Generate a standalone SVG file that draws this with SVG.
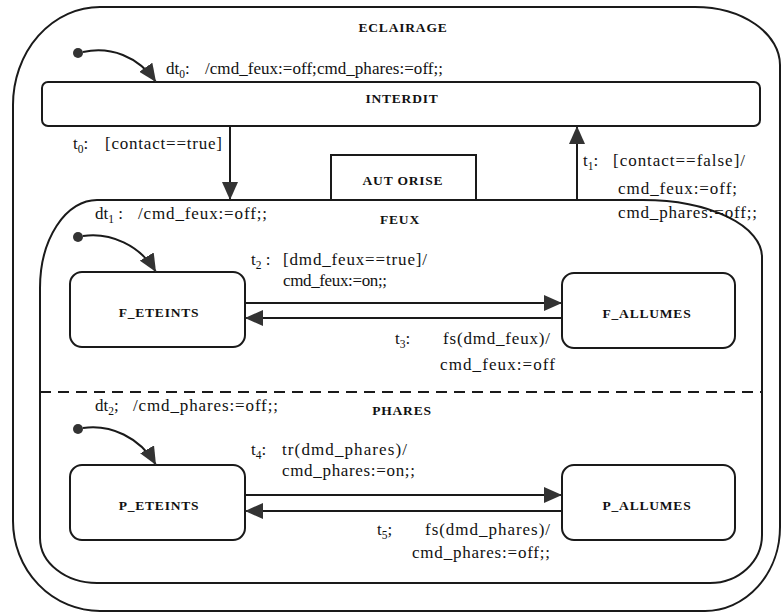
<svg xmlns="http://www.w3.org/2000/svg" width="782" height="614" viewBox="0 0 782 614">
  <style>
    .frame { fill: none; stroke: #1a1a1a; stroke-width: 2; }
    .state { fill: #ffffff; stroke: #1a1a1a; stroke-width: 2; }
    .sep { fill: none; stroke: #1a1a1a; stroke-width: 2; stroke-dasharray: 11 7; }
    .edge { fill: none; stroke: #1a1a1a; stroke-width: 2; }
    .dot { fill: #333333; }
    .name { font-family: "Liberation Serif", "Times New Roman", serif; font-size: 13.5px; font-weight: bold; letter-spacing: 0.8px; fill: #111111; text-anchor: middle; }
    .lbl { font-family: "Liberation Serif", "Times New Roman", serif; font-size: 17px; fill: #111111; }
    .sub { font-size: 11.5px; }
  </style>
  <defs>
    <marker id="head" markerUnits="userSpaceOnUse" markerWidth="18" markerHeight="16" refX="18" refY="8" orient="auto">
      <path d="M0 0 L18 8 L0 16 Z" fill="#333333"/>
    </marker>
  </defs>

  <rect width="782" height="614" fill="#ffffff"/>

  <!-- top-level superstate -->
  <g id="eclairage">
    <path class="frame" d="M100 7 H695 A85 58 0 0 1 780 65 V527 A75 84 0 0 1 705 611 H100 A87 90 0 0 1 13 521 V105 A87 98 0 0 1 100 7 Z"/>
    <text class="name" x="403" y="32">ECLAIRAGE</text>
  </g>

  <g id="init-eclairage">
    <circle class="dot" cx="78" cy="53" r="5"/>
  </g>

  <g id="interdit">
    <rect class="state" x="42" y="82" width="718" height="44" rx="6"/>
    <text class="name" x="402" y="103">INTERDIT</text>
  </g>

  <!-- AUTORISE tab and its two concurrent regions -->
  <g id="autorise">
    <path class="frame" d="M331 200 V155 H476 V200"/>
    <text class="name" x="403" y="185">AUT ORISE</text>
    <path class="frame" d="M97 200 H643 A119 57 0 0 1 762 257 V535 A52 48 0 0 1 710 583 H97 A57 45 0 0 1 40 538 V288 A57 88 0 0 1 97 200 Z"/>
    <line class="sep" x1="40" y1="392" x2="762" y2="392"/>
  </g>

  <g id="feux">
    <text class="name" x="400" y="224">FEUX</text>
    <circle class="dot" cx="78" cy="237" r="5"/>
  </g>

  <g id="f_eteints">
    <rect class="state" x="70" y="272" width="175" height="75" rx="12"/>
    <text class="name" x="159" y="317">F_ETEINTS</text>
  </g>

  <g id="f_allumes">
    <rect class="state" x="562" y="273" width="173" height="75" rx="12"/>
    <text class="name" x="647" y="318">F_ALLUMES</text>
  </g>

  <g id="phares">
    <text class="name" x="402" y="415">PHARES</text>
    <circle class="dot" cx="78" cy="429" r="5"/>
  </g>

  <g id="p_eteints">
    <rect class="state" x="70" y="465" width="175" height="75" rx="12"/>
    <text class="name" x="159" y="510">P_ETEINTS</text>
  </g>

  <g id="p_allumes">
    <rect class="state" x="562" y="465" width="173" height="75" rx="12"/>
    <text class="name" x="647" y="510">P_ALLUMES</text>
  </g>

  <!-- transitions -->
  <g id="connectors">
    <path class="edge" d="M83 52 C110 46 138 56 156 82" marker-end="url(#head)"/>
    <path class="edge" d="M83 236 C110 232 140 245 156 272" marker-end="url(#head)"/>
    <path class="edge" d="M83 428 C110 424 140 437 156 465" marker-end="url(#head)"/>
    <line class="edge" x1="230" y1="126" x2="230" y2="200" marker-end="url(#head)"/>
    <line class="edge" x1="577" y1="200" x2="577" y2="126" marker-end="url(#head)"/>
    <line class="edge" x1="245" y1="303" x2="562" y2="303" marker-end="url(#head)"/>
    <line class="edge" x1="562" y1="318" x2="245" y2="318" marker-end="url(#head)"/>
    <line class="edge" x1="245" y1="495" x2="562" y2="495" marker-end="url(#head)"/>
    <line class="edge" x1="562" y1="511" x2="245" y2="511" marker-end="url(#head)"/>

    <text class="lbl" x="166" y="74">dt<tspan class="sub" dy="4">0</tspan><tspan dy="-4">:</tspan></text>
    <text class="lbl" x="205" y="74" textLength="238">/cmd_feux:=off;cmd_phares:=off;;</text>

    <text class="lbl" x="73" y="149">t<tspan class="sub" dy="4">0</tspan><tspan dy="-4">:</tspan></text>
    <text class="lbl" x="105" y="149" textLength="117">[contact==true]</text>

    <text class="lbl" x="583" y="166">t<tspan class="sub" dy="4">1</tspan><tspan dy="-4">:</tspan></text>
    <text class="lbl" x="613" y="166" textLength="132">[contact==false]/</text>
    <text class="lbl" x="618" y="194" textLength="119">cmd_feux:=off;</text>
    <text class="lbl" x="618" y="218" textLength="139">cmd_phares:=off;;</text>

    <text class="lbl" x="95" y="219">dt<tspan class="sub" dy="4">1</tspan><tspan dy="-4"> :</tspan></text>
    <text class="lbl" x="138" y="219" textLength="129">/cmd_feux:=off;;</text>

    <text class="lbl" x="251" y="265">t<tspan class="sub" dy="4">2</tspan><tspan dy="-4"> :</tspan></text>
    <text class="lbl" x="283" y="265" textLength="144">[dmd_feux==true]/</text>
    <text class="lbl" x="283" y="286" textLength="104">cmd_feux:=on;;</text>

    <text class="lbl" x="395" y="344">t<tspan class="sub" dy="4">3</tspan><tspan dy="-4">:</tspan></text>
    <text class="lbl" x="443" y="344" textLength="107">fs(dmd_feux)/</text>
    <text class="lbl" x="440" y="370" textLength="115">cmd_feux:=off</text>

    <text class="lbl" x="95" y="411">dt<tspan class="sub" dy="4">2</tspan><tspan dy="-4">;</tspan></text>
    <text class="lbl" x="133" y="411" textLength="145">/cmd_phares:=off;;</text>

    <text class="lbl" x="251" y="455">t<tspan class="sub" dy="4">4</tspan><tspan dy="-4">:</tspan></text>
    <text class="lbl" x="282" y="455" textLength="125">tr(dmd_phares)/</text>
    <text class="lbl" x="282" y="476" textLength="133">cmd_phares:=on;;</text>

    <text class="lbl" x="377" y="535">t<tspan class="sub" dy="4">5</tspan><tspan dy="-4">;</tspan></text>
    <text class="lbl" x="425" y="535" textLength="125">fs(dmd_phares)/</text>
    <text class="lbl" x="412" y="558" textLength="138">cmd_phares:=off;;</text>
  </g>
</svg>
